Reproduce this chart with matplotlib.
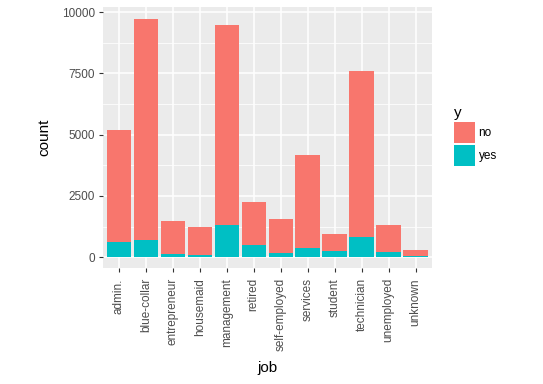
import matplotlib as mpl
mpl.use('Agg')

import matplotlib.pyplot as plt
import numpy as np

# bank marketing: count of clients by job, split by subscription (y)
jobs = ['admin.', 'blue-collar', 'entrepreneur', 'housemaid', 'management',
        'retired', 'self-employed', 'services', 'student', 'technician',
        'unemployed', 'unknown']
total = np.array([5171, 9732, 1487, 1240, 9458, 2264, 1579, 4154, 938, 7597, 1303, 288])
yes = np.array([631, 708, 123, 109, 1301, 516, 187, 369, 269, 840, 202, 34])
no = total - yes

COL_NO = '#F8766D'
COL_YES = '#00BFC4'

plt.rcParams['font.family'] = ['Liberation Sans', 'DejaVu Sans']

fig = plt.figure(figsize=(5.43, 3.84), dpi=100)
ax = fig.add_axes([0.189, 0.302, 0.606, 0.6805])

x = np.arange(len(jobs))
b_yes = ax.bar(x, yes, width=0.9, color=COL_YES, label='yes', zorder=3)
b_no = ax.bar(x, no, bottom=yes, width=0.9, color=COL_NO, label='no', zorder=3)

ymax = total.max()
ax.set_xlim(-0.6, len(jobs) - 0.4)
ax.set_ylim(-0.045 * ymax, 1.05 * ymax)

# ggplot-ish theme
ax.set_facecolor('#EBEBEB')
for s in ax.spines.values():
    s.set_visible(False)
ax.set_yticks([0, 2500, 5000, 7500, 10000])
ax.set_yticks([1250, 3750, 6250, 8750], minor=True)
ax.set_xticks(x)
ax.set_xticklabels(jobs, rotation=90, va='top', ha='center')
ax.grid(which='major', color='white', linewidth=1.1, zorder=0)
ax.grid(which='minor', axis='y', color='white', linewidth=0.55, zorder=0)
ax.set_axisbelow(True)
ax.tick_params(which='major', length=3, width=0.8, color='#333333',
               labelcolor='#4D4D4D', labelsize=8.5)
ax.tick_params(axis='x', pad=4.3)
ax.tick_params(axis='y', pad=2.4)
ax.tick_params(which='minor', length=0)

ax.set_xlabel('job', fontsize=11, labelpad=7)
ax.set_ylabel('count', fontsize=11, labelpad=8)

ax.legend(handles=[b_no, b_yes], labels=['no', 'yes'], title='y',
          loc='upper left', bbox_to_anchor=(454 / 543, 1 - 106 / 384),
          bbox_transform=fig.transFigure, frameon=False,
          fontsize=8.5, title_fontsize=11, alignment='left',
          handlelength=1.78, handleheight=2.36, handletextpad=0.3,
          labelspacing=0.15, borderpad=0, borderaxespad=0)

fig.savefig('out.png', dpi=100)
